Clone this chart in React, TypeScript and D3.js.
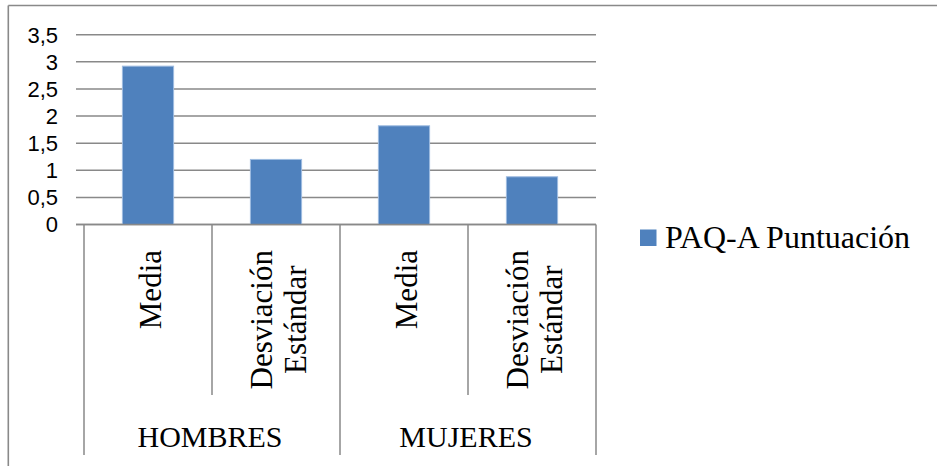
import React, { useEffect, useRef } from "react";
import * as d3 from "d3";

// Data
const groups: string[] = ["HOMBRES", "MUJERES"];
const categoryLabels: string[][] = [
  ["Media"],
  ["Desviación", "Estándar"],
  ["Media"],
  ["Desviación", "Estándar"],
];
const categoryGroup: number[] = [0, 0, 1, 1];
const scores: number[] = [2.92, 1.2, 1.82, 0.88];
const yTicks: number[] = [0, 0.5, 1, 1.5, 2, 2.5, 3, 3.5];
const seriesName = "PAQ-A Puntuación";

const W = 937;
const H = 466;
const GRID = "#898989";
const BAR = "#4F81BD";
const SERIF = "'Liberation Serif', 'Times New Roman', serif";
const SANS = "'Liberation Sans', Arial, sans-serif";

export default function App() {
  const ref = useRef<SVGSVGElement | null>(null);

  useEffect(() => {
    const svg = d3.select(ref.current);
    svg.selectAll("*").remove();

    const plotLeft = 84;
    const plotRight = 596;
    const plotTop = 34.7;
    const plotBottom = 224.5;

    const y = d3.scaleLinear().domain([0, 3.5]).range([plotBottom, plotTop]);
    const idx = scores.map((_, i) => i);
    const slot = d3.scaleBand<number>().domain(idx).range([plotLeft, plotRight]).padding(0);
    const x = d3
      .scaleBand<number>()
      .domain(idx)
      .range([plotLeft, plotRight])
      .paddingInner(0.6)
      .paddingOuter(0.3);

    // Outer chart frame (top and left edges visible)
    svg.append("line").attr("x1", 8.3).attr("x2", W).attr("y1", 5.5).attr("y2", 5.5)
      .attr("stroke", GRID).attr("stroke-width", 1.6);
    svg.append("line").attr("x1", 8.3).attr("x2", 8.3).attr("y1", 5.5).attr("y2", H)
      .attr("stroke", GRID).attr("stroke-width", 1.6);

    // Gridlines and ticks
    const gy = svg.append("g");
    gy.selectAll("line.grid")
      .data(yTicks)
      .join("line")
      .attr("class", "grid")
      .attr("x1", plotLeft - 8)
      .attr("x2", plotRight)
      .attr("y1", (d) => y(d))
      .attr("y2", (d) => y(d))
      .attr("stroke", GRID)
      .attr("stroke-width", 1.5);

    gy.selectAll("text")
      .data(yTicks)
      .join("text")
      .attr("x", 58)
      .attr("y", (d) => y(d))
      .attr("dy", "0.36em")
      .attr("text-anchor", "end")
      .attr("font-family", SANS)
      .attr("font-size", 22)
      .attr("fill", "#000")
      .text((d) => d3.format("")(d).replace(".", ","));

    // Bars
    svg.append("g")
      .selectAll("rect")
      .data(scores)
      .join("rect")
      .attr("x", (_, i) => x(i)!)
      .attr("width", x.bandwidth())
      .attr("y", (d) => y(d))
      .attr("height", (d) => plotBottom - y(d))
      .attr("fill", BAR)
      .attr("stroke", "#9DBBE0")
      .attr("stroke-width", 1);

    // Category axis: vertical separators
    const boundaries = d3.range(scores.length + 1);
    svg.append("g")
      .selectAll("line")
      .data(boundaries)
      .join("line")
      .attr("x1", (b) => (b < scores.length ? slot(b)! : plotRight))
      .attr("x2", (b) => (b < scores.length ? slot(b)! : plotRight))
      .attr("y1", plotBottom)
      .attr("y2", (b) => (b % 2 === 0 ? 455 : 395))
      .attr("stroke", GRID)
      .attr("stroke-width", 1.5);

    // Zero axis line
    svg.append("line")
      .attr("x1", plotLeft - 8)
      .attr("x2", plotRight)
      .attr("y1", plotBottom)
      .attr("y2", plotBottom)
      .attr("stroke", GRID)
      .attr("stroke-width", 1.5);

    // Rotated category labels
    const lineGap = 34.3;
    const labelTop = 250;
    categoryLabels.forEach((lines, i) => {
      const cx = slot(i)! + slot.bandwidth() / 2;
      const g = svg.append("g");
      const texts = lines.map((line, j) => {
        const bx = cx + 13 + (j - (lines.length - 1) / 2) * lineGap;
        return g
          .append("text")
          .attr("font-family", SERIF)
          .attr("font-size", 31)
          .attr("fill", "#000")
          .attr("text-anchor", "middle")
          .attr("data-bx", bx)
          .text(line);
      });
      const longest = d3.max(texts, (t) => (t.node() as SVGTextElement).getComputedTextLength()) ?? 0;
      const cy = labelTop + longest / 2;
      texts.forEach((t) => {
        const bx = +t.attr("data-bx");
        t.attr("transform", `translate(${bx},${cy}) rotate(-90)`);
      });
    });

    // Group labels
    svg.append("g")
      .selectAll("text")
      .data(groups)
      .join("text")
      .attr("x", (_, gi) => {
        const members = idx.filter((i) => categoryGroup[i] === gi);
        const a = slot(members[0])!;
        const b = slot(members[members.length - 1])! + slot.bandwidth();
        return (a + b) / 2 - 2;
      })
      .attr("y", 446.7)
      .attr("text-anchor", "middle")
      .attr("font-family", SERIF)
      .attr("font-size", 30)
      .attr("fill", "#000")
      .text((d) => d);

    // Legend
    const lg = svg.append("g");
    lg.append("rect").attr("x", 640).attr("y", 229.5).attr("width", 16.5).attr("height", 16.5)
      .attr("fill", BAR);
    lg.append("text")
      .attr("x", 665)
      .attr("y", 248.3)
      .attr("font-family", SERIF)
      .attr("font-size", 32)
      .attr("fill", "#000")
      .text(seriesName);
  }, []);

  return (
    <div style={{ position: "fixed", left: 0, top: 0, width: W, height: H, background: "#fff" }}>
      <svg ref={ref} width={W} height={H} style={{ display: "block" }} />
    </div>
  );
}
